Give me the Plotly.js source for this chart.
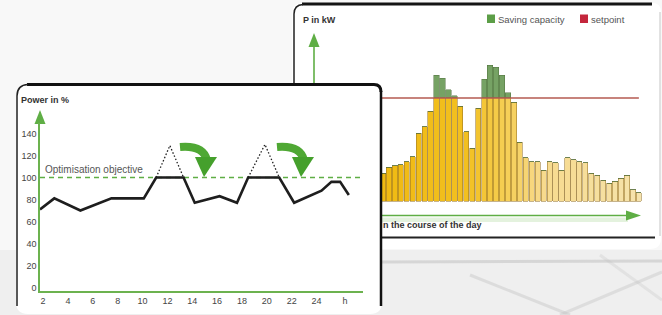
<!DOCTYPE html>
<html><head><meta charset="utf-8">
<script src="https://cdn.plot.ly/plotly-3.0.1.min.js"></script>
<style>html,body{margin:0;padding:0;background:#f3f3f3;}#chart{width:662px;height:315px;}</style>
</head><body><div id="chart"></div>
<script>
// ---- Left chart: power in % over the day ----
const hours      = [1.75, 2.9, 5.0, 7.5, 10.1, 11.1, 13.3, 14.2, 16.2, 17.6, 18.5, 21.0, 22.2, 24.4, 25.2, 25.9, 26.6];
const powerPct   = [71, 81, 70, 81, 81, 100, 100, 77, 83, 77, 100, 100, 77, 88, 96, 96, 84];
const peakHours  = [11.1, 12.2, 13.3, null, 18.5, 19.85, 21.0];
const peakPct    = [100, 129, 100, null, 100, 130, 100];
const objectivePct = 100;
const hourTicks  = [2, 4, 6, 8, 10, 12, 14, 16, 18, 20, 22, 24, 26.3];
const hourLabels = ['2', '4', '6', '8', '10', '12', '14', '16', '18', '20', '22', '24', 'h'];
const pctTicks   = [0, 20, 40, 60, 80, 100, 120, 140];

// ---- Right chart: load in kW over the day (visible slots) ----
const slots = Array.from({length: 44}, (_, i) => i + 1);
const loadKW = [27, 33, 34, 35, 38, 43, 66, 72, 87, 122, 119, 108, 102, 92, 67, 51, 90, 118, 132, 130,
                122, 105, 96, 57, 42, 38, 38, 30, 38, 37, 30, 42, 40, 38, 37, 27, 25, 20, 17, 19,
                22, 25, 11, 8];
const setpointKW = 100;

// ---- geometry helpers (pixel -> paper) ----
const W = 662, H = 315;
const X = px => px / W;
const Y = py => 1 - py / H;
const P = s => s.replace(/(-?\d+\.?\d*),(-?\d+\.?\d*)/g, (m, a, b) => (X(+a)).toFixed(5) + ',' + (Y(+b)).toFixed(5));

const hourRange = [1.75, 27.74];
const green = '#5fae45';

// bar colours: gradient from deep gold to pale
function lerp(a, b, t) { return a.map((v, k) => Math.round(v + (b[k] - v) * t)); }
const stops = [[0, [240, 186, 18]], [0.33, [242, 192, 32]], [0.5, [246, 208, 92]], [0.62, [247, 218, 140]], [1, [246, 227, 172]]];
function barColor(i, n) {
  const t = i / (n - 1);
  for (let s = 1; s < stops.length; s++) {
    if (t <= stops[s][0]) {
      const u = (t - stops[s - 1][0]) / (stops[s][0] - stops[s - 1][0]);
      const c = lerp(stops[s - 1][1], stops[s][1], u);
      return 'rgb(' + c.join(',') + ')';
    }
  }
  return 'rgb(' + stops[stops.length - 1][1].join(',') + ')';
}

const traces = [
  { x: hourRange, y: [objectivePct, objectivePct], type: 'scatter', mode: 'lines',
    line: {color: green, width: 1.6, dash: '5px,4px'}, xaxis: 'x', yaxis: 'y', hoverinfo: 'skip' },
  { x: peakHours, y: peakPct, type: 'scatter', mode: 'lines', connectgaps: false,
    line: {color: '#222', width: 1.3, dash: '1.5px,2px'}, xaxis: 'x', yaxis: 'y' },
  { x: hours, y: powerPct, type: 'scatter', mode: 'lines',
    line: {color: '#1e1e1e', width: 2.6}, xaxis: 'x', yaxis: 'y' },
  { x: slots, y: loadKW.map(v => Math.min(v, setpointKW)), type: 'bar', name: 'load',
    marker: {color: slots.map((s, i) => barColor(i, slots.length)), line: {color: 'rgba(150,115,40,0.6)', width: 0.9}},
    xaxis: 'x2', yaxis: 'y2' },
  { x: slots, y: loadKW.map(v => Math.max(v - setpointKW, 0)), type: 'bar', name: 'Saving capacity',
    marker: {color: '#76a264', line: {color: 'rgba(80,110,60,0.6)', width: 0.8}},
    xaxis: 'x2', yaxis: 'y2' },
  { x: [0.5, 44], y: [setpointKW, setpointKW], type: 'scatter', mode: 'lines', name: 'setpoint',
    line: {color: '#b45a50', width: 1.5}, xaxis: 'x2', yaxis: 'y2' }
];

const shapes = [
  // background texture
  {type: 'path', xref: 'paper', yref: 'paper', layer: 'below', path: P('M0,0 L662,0 L662,250 L0,250 Z'), fillcolor: '#f8f8f8', line: {width: 0}},
  {type: 'path', xref: 'paper', yref: 'paper', layer: 'below', path: P('M382,262 L662,261'), line: {color: 'rgba(185,185,185,0.45)', width: 3}},
  {type: 'path', xref: 'paper', yref: 'paper', layer: 'below', path: P('M470,275 L570,315'), line: {color: 'rgba(185,185,185,0.35)', width: 3}},
  {type: 'path', xref: 'paper', yref: 'paper', layer: 'below', path: P('M560,315 L662,272'), line: {color: 'rgba(190,190,190,0.35)', width: 3}},
  {type: 'path', xref: 'paper', yref: 'paper', layer: 'below', path: P('M600,255 L662,300'), line: {color: 'rgba(195,195,195,0.3)', width: 3}},
  // right panel card
  {type: 'path', xref: 'paper', yref: 'paper', layer: 'below', path: P('M292,14 Q292,3 303,3 L652,3 Q661,3 661,12 L661,238 Q661,249 650,249 L303,249 Q292,249 292,238 Z'), fillcolor: '#ffffff', line: {width: 0}},
  {type: 'path', xref: 'paper', yref: 'paper', layer: 'below', path: P('M302,4 L652,4'), line: {color: '#151515', width: 3}},
  {type: 'path', xref: 'paper', yref: 'paper', layer: 'below', path: P('M294,90 L294,14 Q294,5 303,4.5'), fillcolor: 'rgba(0,0,0,0)', line: {color: '#222', width: 1.5}},
  {type: 'path', xref: 'paper', yref: 'paper', layer: 'below', path: P('M660,12 L660,236'), line: {color: '#c4c4c4', width: 1}},
  {type: 'path', xref: 'paper', yref: 'paper', layer: 'below', path: P('M381,237.5 L655,237.5'), line: {color: '#222', width: 2}},
  // right chart y-axis arrow
  {type: 'path', xref: 'paper', yref: 'paper', layer: 'below', path: P('M314,45 L314,90'), line: {color: green, width: 1.6}},
  {type: 'path', xref: 'paper', yref: 'paper', layer: 'below', path: P('M314,33 L319.5,47 L308.5,47 Z'), fillcolor: green, line: {width: 0}},
  // right chart x-axis arrow
  {type: 'path', xref: 'paper', yref: 'paper', layer: 'below', path: P('M381,217.5 L628,217.5 L628,222 L381,222 Z'), fillcolor: 'rgba(205,232,195,0.55)', line: {width: 0}},
  {type: 'path', xref: 'paper', yref: 'paper', layer: 'below', path: P('M381,215.5 L630,215.5'), line: {color: green, width: 1.6}},
  {type: 'path', xref: 'paper', yref: 'paper', layer: 'below', path: P('M626,210.5 L641,215.5 L626,220.5 Z'), fillcolor: green, line: {width: 0}},
  // left panel card
  {type: 'path', xref: 'paper', yref: 'paper', layer: 'below', path: P('M16,96 Q16,84 28,84 L374,84 Q382,84 382,92 L382,302 Q382,314 370,314 L28,314 Q16,314 16,302 Z'), fillcolor: '#ffffff', line: {width: 0}},
  {type: 'path', xref: 'paper', yref: 'paper', layer: 'below', path: P('M27,84.5 L374,84.5 Q381,84.5 381,92'), fillcolor: 'rgba(0,0,0,0)', line: {color: '#111', width: 3}},
  {type: 'path', xref: 'paper', yref: 'paper', layer: 'below', path: P('M17,306 L17,96 Q17,85 28,84.5'), fillcolor: 'rgba(0,0,0,0)', line: {color: '#222', width: 1.5}},
  // left y-axis arrow head
  {type: 'path', xref: 'paper', yref: 'paper', layer: 'below', path: P('M40,110 L45.5,124 L34.5,124 Z'), fillcolor: green, line: {width: 0}},
  // green curved arrows
  {type: 'path', xref: 'paper', yref: 'paper', layer: 'above', path: P('M180,147 Q203,145 207,160'), fillcolor: 'rgba(0,0,0,0)', line: {color: '#4fa834', width: 8}},
  {type: 'path', xref: 'paper', yref: 'paper', layer: 'above', path: P('M195,157 L217,157 L204,177 Z'), fillcolor: '#45a02c', line: {width: 0}},
  {type: 'path', xref: 'paper', yref: 'paper', layer: 'above', path: P('M277,147 Q300,145 304,160'), fillcolor: 'rgba(0,0,0,0)', line: {color: '#4fa834', width: 8}},
  {type: 'path', xref: 'paper', yref: 'paper', layer: 'above', path: P('M292,157 L314,157 L301,177 Z'), fillcolor: '#45a02c', line: {width: 0}},
  // left panel right border (covers right chart edge)
  {type: 'path', xref: 'paper', yref: 'paper', layer: 'above', path: P('M381,91 L381,306'), line: {color: '#111', width: 2.5}},
  // legend swatches
  {type: 'path', xref: 'paper', yref: 'paper', layer: 'above', path: P('M487,14.5 L495,14.5 L495,23 L487,23 Z'), fillcolor: '#5c9e47', line: {width: 0}},
  {type: 'path', xref: 'paper', yref: 'paper', layer: 'above', path: P('M580,14.5 L588,14.5 L588,23 L580,23 Z'), fillcolor: '#c4263c', line: {width: 0}}
];

const FONT = '"Liberation Sans Narrow", "Liberation Sans", Arial, sans-serif';
function note(text, px, py, size, color, extra) {
  return Object.assign({text: text, x: X(px), y: Y(py), xref: 'paper', yref: 'paper', xanchor: 'left', yanchor: 'middle',
    showarrow: false, font: {size: size, color: color, family: FONT}, borderpad: 0}, extra || {});
}
const annotations = [
  note('<b>Power in %</b>', 20, 100, 9, '#333'),
  note('<b>P in kW</b>', 302, 20, 9, '#333'),
  note('Optimisation objective', 44, 169, 10, '#555'),
  note('<b>n the course of the day</b>', 382, 224.5, 9, '#333'),
  note('Saving capacity', 497, 19, 9.5, '#555'),
  note('setpoint', 590, 19, 9.5, '#555')
];

const layout = {
  width: W, height: H,
  margin: {l: 0, r: 0, t: 0, b: 0, pad: 0},
  paper_bgcolor: '#efefef', plot_bgcolor: 'rgba(0,0,0,0)',
  showlegend: false, barmode: 'stack', bargap: 0.12,
  font: {family: FONT, size: 9, color: '#444'},
  xaxis: {domain: [X(40), X(363)], range: hourRange, anchor: 'y', showline: true, linecolor: '#6cb24f', linewidth: 2,
    showgrid: false, zeroline: false, ticks: '', tickvals: hourTicks, ticktext: hourLabels,
    tickfont: {size: 9, color: '#444', family: FONT}},
  yaxis: {domain: [Y(291), Y(123)], range: [-3.18, 149.5], anchor: 'x', showline: true, linecolor: '#6cb24f', linewidth: 1.6,
    showgrid: false, zeroline: false, ticks: '', tickvals: pctTicks,
    tickfont: {size: 9, color: '#444', family: FONT}},
  xaxis2: {domain: [X(381), X(645)], range: [0.664, 45.03], anchor: 'y2', visible: false, showgrid: false, zeroline: false},
  yaxis2: {domain: [Y(216), Y(30)], range: [-14.56, 166], anchor: 'x2', visible: false, showgrid: false, zeroline: false},
  shapes: shapes,
  annotations: annotations
};

Plotly.newPlot('chart', traces, layout, {staticPlot: true, displayModeBar: false});
</script>
</body></html>
